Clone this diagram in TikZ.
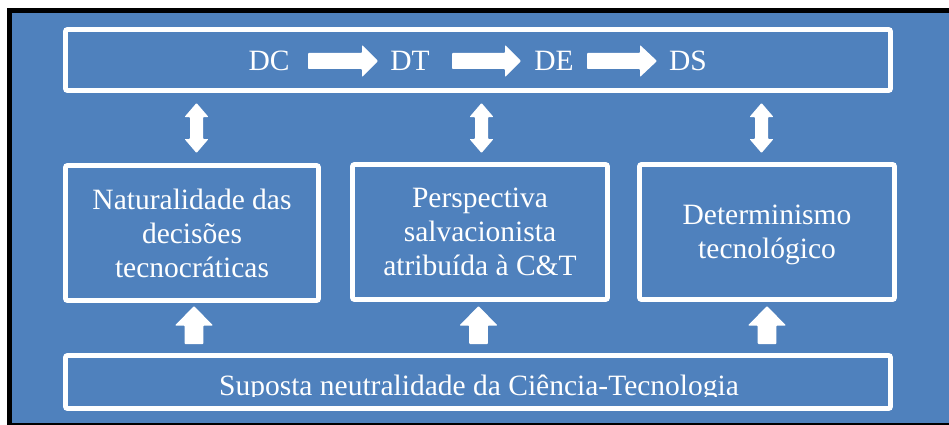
\documentclass[tikz,border=0pt]{standalone}
\usepackage{fontspec}
\setmainfont{Liberation Serif}
\definecolor{bgblue}{HTML}{4F81BD}
\begin{document}
\begin{tikzpicture}[x=1pt,y=-1pt,
  wbox/.style={draw=white, line width=4.8pt, rounded corners=2pt, fill=bgblue, inner sep=0pt},
  lbl/.style={text=white, font=\fontsize{29.5}{34}\selectfont, inner sep=0pt, align=center, text depth=0pt},
  blockarrow/.style={fill=white, rounded corners=0.8pt}]
\useasboundingbox (0,0) rectangle (949,425);
\fill[white] (0,0) rectangle (949,425);
\fill[black] (7,8) rectangle (960,430);
\fill[bgblue] (12,13) rectangle (955,422.5);
% boxes
\node[wbox, minimum width=825pt, minimum height=61pt] (top) at (478,60) {};
\node[wbox, minimum width=253pt, minimum height=135pt] (b1) at (192,233) {};
\node[wbox, minimum width=255pt, minimum height=135pt] (b2) at (480,232) {};
\node[wbox, minimum width=255pt, minimum height=135pt] (b3) at (767,232) {};
\node[wbox, minimum width=825pt, minimum height=53pt] (bot) at (478,382) {};
% texts
\node[lbl] (t1) at (b1.center) {Naturalidade das\\decisões\\tecnocráticas};
\node[lbl] (t2) at (b2.center) {Perspectiva\\salvacionista\\atribuída à C\&T};
\node[lbl] (t3) at (b3.center) {Determinismo\\tecnológico};
\node[lbl, anchor=base] (dc) at (269,71) {DC};
\node[lbl, anchor=base] (dt) at (410,71) {DT};
\node[lbl, anchor=base] (de) at (554,71) {DE};
\node[lbl, anchor=base] (ds) at (688,71) {DS};
\begin{scope}
\clip (60,350) rectangle (900,396);
\node[lbl, anchor=base] (neu) at (479,395) {Suposta neutralidade da Ciência-Tecnologia};
\end{scope}
% horizontal block arrows
\foreach \a/\h/\b in {308/362/378, 452/505/521, 587/640/657}{
  \fill[blockarrow] (\a,53) -- (\h,53) -- (\h,45) -- (\b,61) -- (\h,77) -- (\h,69) -- (\a,69) -- cycle;
}
% vertical double arrows
\foreach \c in {196.5, 481.5, 761.5}{
  \fill[blockarrow] (\c,103) -- (\c+12,117) -- (\c+6.5,117) -- (\c+6.5,139) -- (\c+12,139) -- (\c,153)
    -- (\c-12,139) -- (\c-6.5,139) -- (\c-6.5,117) -- (\c-12,117) -- cycle;
}
% up arrows
\foreach \c in {194, 478.5, 767}{
  \fill[blockarrow] (\c,306) -- (\c+19,325.5) -- (\c+9.3,325.5) -- (\c+9.3,344) -- (\c-9.3,344)
    -- (\c-9.3,325.5) -- (\c-19,325.5) -- cycle;
}
\end{tikzpicture}
\end{document}
